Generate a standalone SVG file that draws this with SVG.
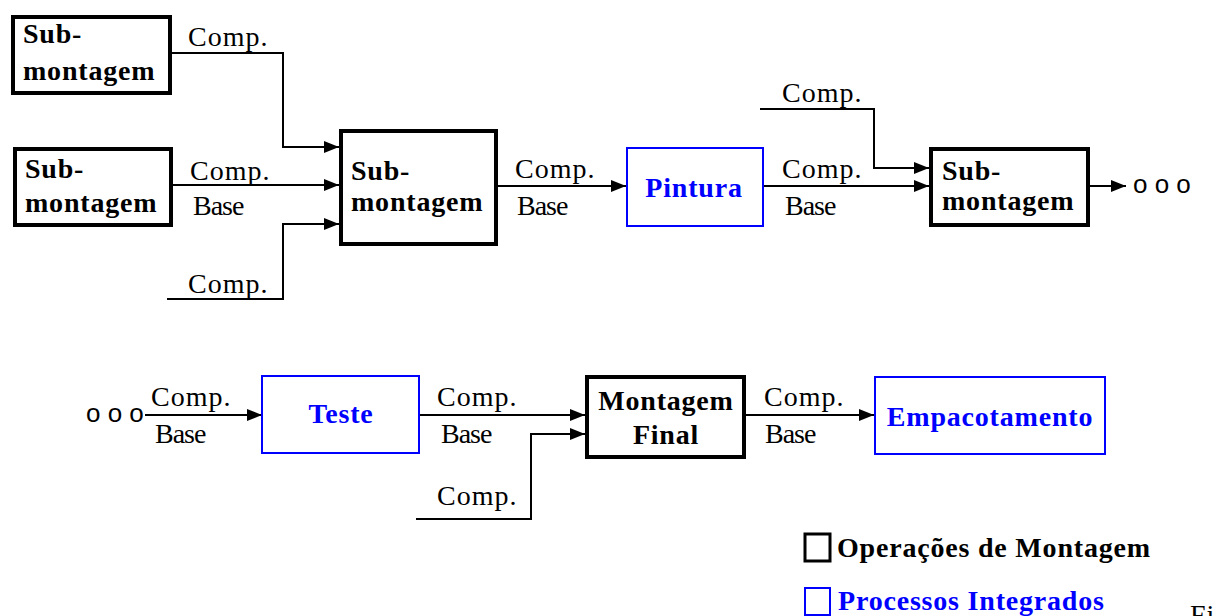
<svg xmlns="http://www.w3.org/2000/svg" width="1216" height="616" viewBox="0 0 1216 616">
  <defs>
    <marker id="arrow" markerUnits="userSpaceOnUse" markerWidth="16" markerHeight="13" refX="15" refY="6" orient="auto">
      <path d="M0,0 L15,6 L0,12 z" fill="#000"/>
    </marker>
    <style>
      .op { fill: #fff; stroke: #000; stroke-width: 4; }
      .proc { fill: #fff; stroke: #0000ff; stroke-width: 2; }
      .bold { font-family: "Liberation Serif", "Times New Roman", serif; font-weight: bold; font-size: 28px; letter-spacing: 0.8px; fill: #000; }
      .blue { fill: #0000ff; }
      .lbl { font-family: "Liberation Serif", "Times New Roman", serif; font-size: 28px; letter-spacing: 1px; fill: #000; }
      .base { letter-spacing: -1px; }
      .dots { font-family: "Liberation Sans", Arial, sans-serif; font-size: 26px; fill: #000; }
      .wire { fill: none; stroke: #000; stroke-width: 2; }
      .mid { text-anchor: middle; }
    </style>
  </defs>

  <rect width="1216" height="616" fill="#fff"/>

  <!-- connectors -->
  <g id="connectors">
    <path class="wire" d="M171,53 H283 V147 H339" marker-end="url(#arrow)"/>
    <path class="wire" d="M173,185 H339" marker-end="url(#arrow)"/>
    <path class="wire" d="M167,299 H283 V224 H339" marker-end="url(#arrow)"/>
    <path class="wire" d="M498,186 H626" marker-end="url(#arrow)"/>
    <path class="wire" d="M763,186 H929" marker-end="url(#arrow)"/>
    <path class="wire" d="M760,109 H874 V168 H929" marker-end="url(#arrow)"/>
    <path class="wire" d="M1090,186 H1126" marker-end="url(#arrow)"/>
    <path class="wire" d="M145,415 H262" marker-end="url(#arrow)"/>
    <path class="wire" d="M419,415 H585" marker-end="url(#arrow)"/>
    <path class="wire" d="M416,519 H531 V434 H585" marker-end="url(#arrow)"/>
    <path class="wire" d="M746,415 H874" marker-end="url(#arrow)"/>

    <text class="lbl" x="188" y="46">Comp.</text>
    <text class="lbl" x="190" y="180">Comp.</text>
    <text class="lbl base" x="193" y="215">Base</text>
    <text class="lbl" x="188" y="293">Comp.</text>
    <text class="lbl" x="515" y="178">Comp.</text>
    <text class="lbl base" x="517" y="215">Base</text>
    <text class="lbl" x="782" y="102">Comp.</text>
    <text class="lbl" x="782" y="178">Comp.</text>
    <text class="lbl base" x="785" y="215">Base</text>
    <text class="dots" x="1133" y="193">o o o</text>

    <text class="dots" x="86" y="422">o o o</text>
    <text class="lbl" x="151" y="406">Comp.</text>
    <text class="lbl base" x="155" y="443">Base</text>
    <text class="lbl" x="437" y="406">Comp.</text>
    <text class="lbl base" x="441" y="443">Base</text>
    <text class="lbl" x="437" y="505">Comp.</text>
    <text class="lbl" x="764" y="406">Comp.</text>
    <text class="lbl base" x="765" y="443">Base</text>
  </g>

  <!-- assembly operations -->
  <g id="sub1">
    <rect class="op" x="13" y="17" width="157" height="76"/>
    <text class="bold" x="23" y="43">Sub-</text>
    <text class="bold" x="23" y="80">montagem</text>
  </g>
  <g id="sub2">
    <rect class="op" x="15" y="149" width="156" height="76"/>
    <text class="bold" x="25" y="178">Sub-</text>
    <text class="bold" x="25" y="212">montagem</text>
  </g>
  <g id="sub3">
    <rect class="op" x="341" y="131" width="155" height="113"/>
    <text class="bold" x="351" y="180">Sub-</text>
    <text class="bold" x="351" y="211">montagem</text>
  </g>
  <g id="pintura">
    <rect class="proc" x="627" y="148" width="136" height="78"/>
    <text class="bold blue mid" x="694" y="197">Pintura</text>
  </g>
  <g id="sub4">
    <rect class="op" x="931" y="149" width="157" height="76"/>
    <text class="bold" x="942" y="180">Sub-</text>
    <text class="bold" x="942" y="210">montagem</text>
  </g>
  <g id="teste">
    <rect class="proc" x="262" y="376" width="157" height="77"/>
    <text class="bold blue mid" x="341" y="423">Teste</text>
  </g>
  <g id="montagem-final">
    <rect class="op" x="587" y="377" width="157" height="80"/>
    <text class="bold mid" x="666" y="410">Montagem</text>
    <text class="bold mid" x="666" y="444">Final</text>
  </g>
  <g id="empacotamento">
    <rect class="proc" x="875" y="377" width="230" height="77"/>
    <text class="bold blue mid" x="990" y="426">Empacotamento</text>
  </g>

  <!-- legend -->
  <g id="legend">
    <rect x="805" y="534" width="25" height="27" fill="#fff" stroke="#000" stroke-width="3"/>
    <text class="bold" x="837" y="557">Operações de Montagem</text>
    <rect x="805" y="588" width="25" height="27" fill="#fff" stroke="#0000ff" stroke-width="2"/>
    <text class="bold blue" x="838" y="610">Processos Integrados</text>
  </g>

  <text class="lbl" x="1190" y="624" fill="#333">Fi</text>
</svg>
